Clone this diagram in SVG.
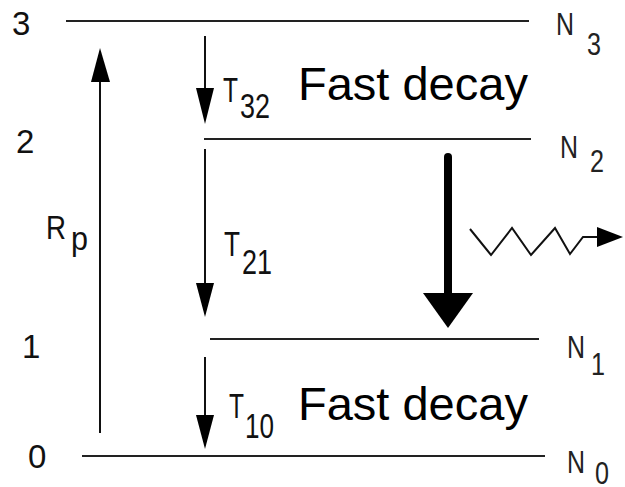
<svg xmlns="http://www.w3.org/2000/svg" width="625" height="487" viewBox="0 0 625 487">
  <style>
    .lvl { stroke: #222; stroke-width: 2; fill: none; }
    .arr { stroke: #111; stroke-width: 2; fill: none; }
    .head { fill: #000; stroke: none; }
    text { font-family: "Liberation Sans", Arial, sans-serif; fill: #111; }
    .num { font-size: 33px; }
    .lab { font-size: 35px; }
    .nl { font-size: 31px; fill: #222; }
    .big { font-size: 47px; fill: #000; }
  </style>
  <rect width="625" height="487" fill="#fff"/>

  <g id="level3">
    <line class="lvl" x1="66" y1="21" x2="529" y2="21"/>
    <text class="num" x="12" y="35">3</text>
    <text class="nl" x="556" y="35" textLength="18" lengthAdjust="spacingAndGlyphs">N</text>
    <text class="nl" x="587" y="55" textLength="14" lengthAdjust="spacingAndGlyphs">3</text>
  </g>
  <g id="level2">
    <line class="lvl" x1="204" y1="139" x2="531" y2="139"/>
    <text class="num" x="16" y="153">2</text>
    <text class="nl" x="560" y="158" textLength="18" lengthAdjust="spacingAndGlyphs">N</text>
    <text class="nl" x="590" y="172" textLength="14" lengthAdjust="spacingAndGlyphs">2</text>
  </g>
  <g id="level1">
    <line class="lvl" x1="210" y1="339" x2="539" y2="339"/>
    <text class="num" x="22" y="358">1</text>
    <text class="nl" x="567" y="358" textLength="18" lengthAdjust="spacingAndGlyphs">N</text>
    <text class="nl" x="591" y="375" textLength="14" lengthAdjust="spacingAndGlyphs">1</text>
  </g>
  <g id="level0">
    <line class="lvl" x1="82" y1="456" x2="545" y2="456"/>
    <text class="num" x="28" y="468">0</text>
    <text class="nl" x="567" y="473" textLength="18" lengthAdjust="spacingAndGlyphs">N</text>
    <text class="nl" x="595" y="484" textLength="14" lengthAdjust="spacingAndGlyphs">0</text>
  </g>

  <g id="fast-decay-upper">
    <text class="big" x="298" y="100">Fast decay</text>
  </g>
  <g id="fast-decay-lower">
    <text class="big" x="298" y="420">Fast decay</text>
  </g>

  <g id="connectors">
    <g id="pump">
      <line class="arr" x1="100" y1="433" x2="100" y2="80"/>
      <polygon class="head" points="100,48 91,82 110,82"/>
      <text class="num" x="46" y="239" textLength="20" lengthAdjust="spacingAndGlyphs">R</text>
      <text class="num" x="71" y="250" textLength="17" lengthAdjust="spacingAndGlyphs">p</text>
    </g>
    <g id="t32">
      <line class="arr" x1="205" y1="36" x2="205" y2="90"/>
      <polygon class="head" points="205,124 196,88 214,88"/>
      <text class="lab" x="223" y="102" textLength="15" lengthAdjust="spacingAndGlyphs">T</text>
      <text class="lab" x="240" y="118" textLength="30" lengthAdjust="spacingAndGlyphs">32</text>
    </g>
    <g id="t21">
      <line class="arr" x1="205" y1="149" x2="205" y2="285"/>
      <polygon class="head" points="205,317 196,283 214,283"/>
      <text class="lab" x="224" y="256" textLength="16" lengthAdjust="spacingAndGlyphs">T</text>
      <text class="lab" x="242" y="274" textLength="30" lengthAdjust="spacingAndGlyphs">21</text>
    </g>
    <g id="t10">
      <line class="arr" x1="205" y1="357" x2="205" y2="417"/>
      <polygon class="head" points="205,449 196,415 214,415"/>
      <text class="lab" x="229" y="418" textLength="15" lengthAdjust="spacingAndGlyphs">T</text>
      <text class="lab" x="245" y="438" textLength="29" lengthAdjust="spacingAndGlyphs">10</text>
    </g>
    <g id="laser-transition">
      <line x1="448" y1="157" x2="448" y2="295" stroke="#000" stroke-width="8" stroke-linecap="round"/>
      <polygon class="head" points="448,328 423,293 473,293"/>
    </g>
    <g id="photon">
      <polyline class="arr" stroke-linejoin="miter" points="470,229 491,255 512,228 531,255 555,228 570,254 583,237 599,237"/>
      <polygon class="head" points="623,237 597,227 597,247"/>
    </g>
  </g>
</svg>
